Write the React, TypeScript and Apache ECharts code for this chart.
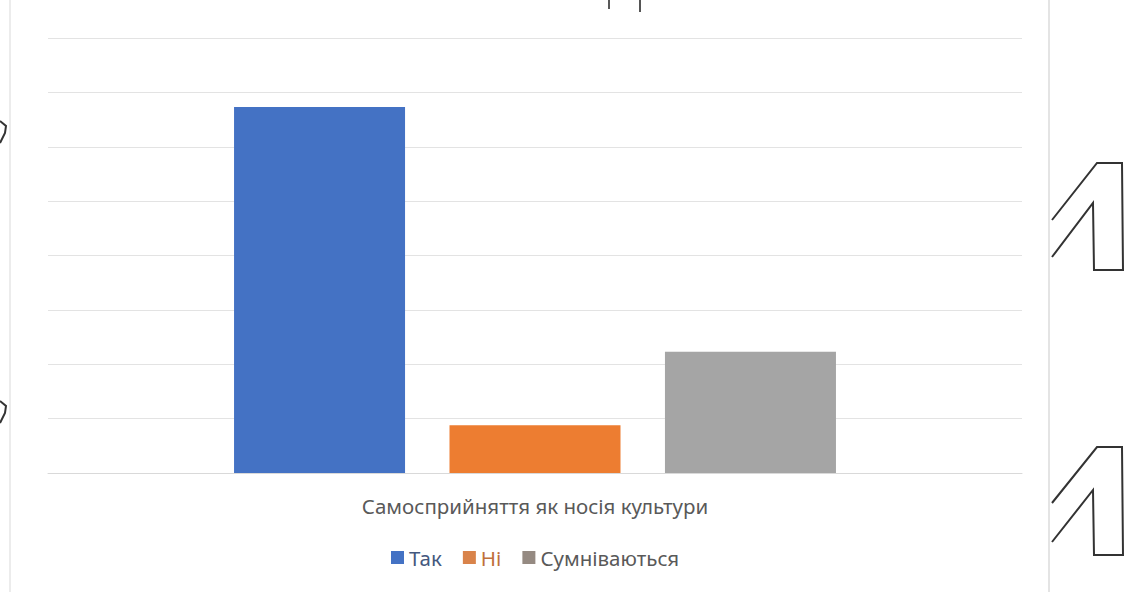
import React, { useEffect, useRef } from "react";
import * as echarts from "echarts";

const categories = ["Самосприйняття як носія культури"];
const seriesNames = ["Так", "Ні", "Сумніваються"];
const seriesValues = [[67.3], [8.8], [22.3]];
const seriesColors = ["#4472C4", "#ED7D31", "#A5A5A5"];
const legendSwatchColors = ["#4472C4", "#D9834A", "#958A82"];
const legendTextColors = ["#44587e", "#c0703c", "#595959"];

export default function App() {
  const ref = useRef<HTMLDivElement>(null);
  useEffect(() => {
    document.body.style.margin = "0";
    const chart = echarts.init(ref.current!, null, { renderer: "svg" });
    const font = "'Noto Sans', 'Open Sans', sans-serif";
    chart.setOption({
      animation: false,
      backgroundColor: "#ffffff",
      grid: { left: 48, right: 115, top: 38, bottom: 119, containLabel: false },
      xAxis: {
        type: "category",
        data: categories,
        axisLine: { show: true, lineStyle: { color: "#d9d9d9", width: 1 } },
        axisTick: { show: false },
        axisLabel: { color: "#595959", fontSize: 20.5, fontFamily: font, margin: 22 },
      },
      yAxis: {
        type: "value",
        min: 0,
        max: 80,
        interval: 10,
        axisLabel: { show: false },
        axisLine: { show: false },
        axisTick: { show: false },
        splitLine: { lineStyle: { color: "#e3e3e3", width: 1 } },
      },
      legend: {
        top: 542,
        left: 386,
        itemWidth: 13,
        itemHeight: 13,
        itemGap: 21,
        icon: "rect",
        textStyle: { fontSize: 20.5, fontFamily: font, color: "#595959" },
        data: seriesNames.map((n, i) => ({
          name: n,
          itemStyle: { color: legendSwatchColors[i] },
          textStyle: { color: legendTextColors[i] },
        })),
      },
      series: seriesNames.map((n, i) => ({
        name: n,
        type: "bar",
        data: seriesValues[i],
        barWidth: 171,
        barGap: "26%",
        itemStyle: { color: seriesColors[i] },
      })),
      graphic: [
        { type: "line", shape: { x1: 10, y1: 0, x2: 10, y2: 592 }, style: { stroke: "#ececec", lineWidth: 2 } },
        { type: "line", shape: { x1: 1049, y1: 0, x2: 1049, y2: 592 }, style: { stroke: "#e4e4e4", lineWidth: 2 } },
        { type: "line", shape: { x1: 609, y1: 0, x2: 609, y2: 9 }, style: { stroke: "#222", lineWidth: 1.5 } },
        { type: "line", shape: { x1: 640, y1: 0, x2: 640, y2: 12 }, style: { stroke: "#555", lineWidth: 2 } },
        {
          type: "polyline",
          shape: { points: [[1052, 220], [1097, 163], [1122, 163], [1123, 270], [1094, 270], [1093, 203], [1052, 257]] },
          style: { stroke: "#333", lineWidth: 2, fill: null },
        },
        {
          type: "polyline",
          shape: { points: [[1052, 503], [1097, 447], [1122, 447], [1123, 555], [1094, 555], [1093, 490], [1052, 542]] },
          style: { stroke: "#333", lineWidth: 2, fill: null },
        },
        {
          type: "polyline",
          shape: { points: [[0, 121], [6, 126], [5, 133], [0, 143]] },
          style: { stroke: "#333", lineWidth: 2, fill: null },
        },
        {
          type: "polyline",
          shape: { points: [[0, 401], [6, 406], [5, 413], [0, 423]] },
          style: { stroke: "#333", lineWidth: 2, fill: null },
        },
      ],
    });
    return () => chart.dispose();
  }, []);
  return <div ref={ref} style={{ width: 1137, height: 592 }} />;
}
